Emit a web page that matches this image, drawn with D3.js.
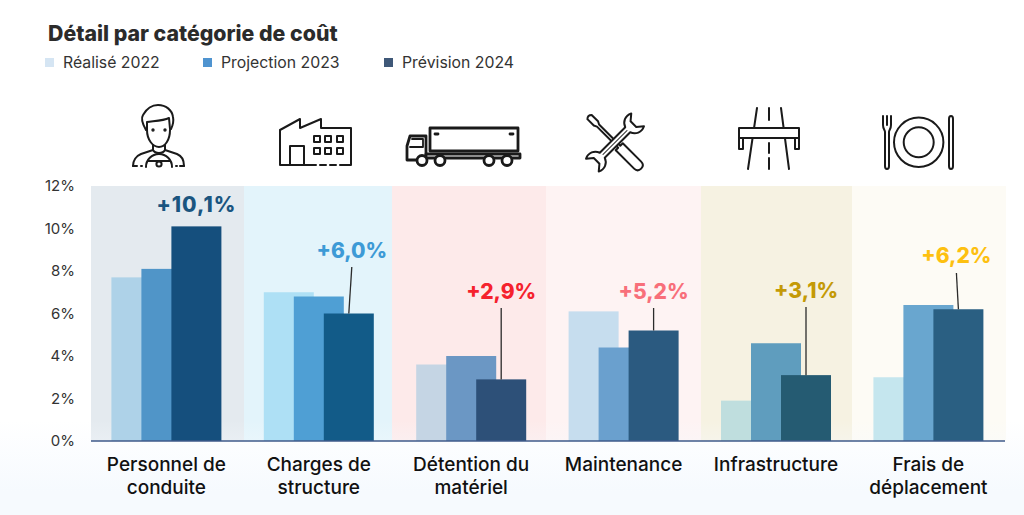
<!DOCTYPE html>
<html>
<head>
<meta charset="utf-8">
<script src="https://cdn.jsdelivr.net/npm/d3@7"></script>
<style>
  html, body { margin: 0; padding: 0; background: #fff; }
  svg { display: block; }
  text { font-family: Inter, Lato, sans-serif; }
</style>
</head>
<body>
<script>
  // Data
  var categories = ['Personnel de conduite', 'Charges de structure', 'Détention du matériel',
    'Maintenance', 'Infrastructure', 'Frais de déplacement'];
  var categoryLines = [['Personnel de', 'conduite'], ['Charges de', 'structure'], ['Détention du', 'matériel'],
    ['Maintenance'], ['Infrastructure'], ['Frais de', 'déplacement']];
  var seriesNames = ['Réalisé 2022', 'Projection 2023', 'Prévision 2024'];
  var realise2022 = [7.7, 7.0, 3.6, 6.1, 1.9, 3.0];
  var projection2023 = [8.1, 6.8, 4.0, 4.4, 4.6, 6.4];
  var prevision2024 = [10.1, 6.0, 2.9, 5.2, 3.1, 6.2];
  var deltaLabels = ['+10,1%', '+6,0%', '+2,9%', '+5,2%', '+3,1%', '+6,2%'];
  var yTicks = [0, 2, 4, 6, 8, 10, 12];

  // Colours: one row per category, one column per series
  var barColors = [
    ['#aed2e8', '#5095c8', '#154f7d'],
    ['#aee0f5', '#4f9fd4', '#125b88'],
    ['#c5d5e4', '#6b97c4', '#2d5078'],
    ['#c6ddee', '#6aa0ce', '#2b5a80'],
    ['#bfdede', '#5f9dbe', '#255b72'],
    ['#c5e6ee', '#69a6cf', '#2a5f82']
  ];
  var panelColors = ['#e4eaef', '#e3f4fb', '#fdeaea', '#fef3f3', '#f6f2e2', '#fdfbf5'];
  var deltaColors = ['#1a5580', '#3d9ad6', '#f5222d', '#f86f7a', '#c49a06', '#fdc010'];
  var legendColors = ['#d5e5f3', '#4f94d0', '#3f5878'];

  // Layout
  var w = 1024, h = 515;
  var panelEdges = [91, 244, 392, 546, 701, 852, 1006];
  var deltaBaseline = [212, 258, 299, 299, 298, 263];
  var deltaShift = [0, 3, 0, 0, 0, -2];
  var deltaSpacing = [1, 0, 0, 0, 0, 0];
  var leaderTop = [null, 267, 308, 308, 307, 273];
  var legendX = [45, 203, 384];
  var barWidth = 50;

  var data = [realise2022, projection2023, prevision2024];

  var svg = d3.select('body').append('svg').attr('width', w).attr('height', h);

  var x = d3.scaleBand().domain(categories).range([90.2, 1004.6]);
  var offset = d3.scalePoint().domain(seriesNames).range([-30, 30]);
  var y = d3.scaleLinear().domain([0, 12]).range([441, 186]);

  var defs = svg.append('defs');
  var fade = defs.append('linearGradient').attr('id', 'fade').attr('x1', 0).attr('x2', 0).attr('y1', 0).attr('y2', 1);
  fade.append('stop').attr('offset', 0).attr('stop-color', '#f6fafe').attr('stop-opacity', 0);
  fade.append('stop').attr('offset', 0.75).attr('stop-color', '#f6fafe').attr('stop-opacity', 1);
  fade.append('stop').attr('offset', 1).attr('stop-color', '#f6fafe').attr('stop-opacity', 1);

  // Panels behind each category
  svg.selectAll('rect.panel')
    .data(categories)
    .enter()
    .append('rect')
    .attr('class', 'panel')
    .attr('x', function(d, i) { return panelEdges[i]; })
    .attr('y', y(12))
    .attr('width', function(d, i) { return panelEdges[i + 1] - panelEdges[i]; })
    .attr('height', y(0) - y(12))
    .attr('fill', function(d, i) { return panelColors[i]; });

  svg.append('rect')
    .attr('x', 0).attr('y', 420).attr('width', w).attr('height', 95)
    .attr('fill', 'url(#fade)');

  // Bars, series by series so the later year sits on top
  seriesNames.forEach(function(name, s) {
    svg.selectAll('rect.s' + s)
      .data(data[s])
      .enter()
      .append('rect')
      .attr('class', 's' + s)
      .attr('x', function(d, i) { return x(categories[i]) + x.bandwidth() / 2 + offset(name) - barWidth / 2; })
      .attr('y', function(d) { return y(d); })
      .attr('width', barWidth)
      .attr('height', function(d) { return y(0) - y(d); })
      .attr('fill', function(d, i) { return barColors[i][s]; });
  });

  // Leader lines
  svg.selectAll('line.leader')
    .data(categories.filter(function(d, i) { return leaderTop[i] !== null; }))
    .enter()
    .append('line')
    .attr('class', 'leader')
    .attr('x1', function(d) {
      var i = categories.indexOf(d);
      return x(d) + x.bandwidth() / 2 + offset(seriesNames[2]) + deltaShift[i];
    })
    .attr('y1', function(d) { return leaderTop[categories.indexOf(d)]; })
    .attr('x2', function(d) { return x(d) + x.bandwidth() / 2 + offset(seriesNames[2]); })
    .attr('y2', function(d) { return y(prevision2024[categories.indexOf(d)]); })
    .attr('stroke', '#2b2b2b')
    .attr('stroke-width', 1.3);

  // Delta labels
  svg.selectAll('text.delta')
    .data(deltaLabels)
    .enter()
    .append('text')
    .attr('class', 'delta')
    .attr('x', function(d, i) { return x(categories[i]) + x.bandwidth() / 2 + offset(seriesNames[2]) + deltaShift[i]; })
    .attr('y', function(d, i) { return deltaBaseline[i]; })
    .attr('text-anchor', 'middle')
    .style('font-size', '21px')
    .style('font-weight', 800)
    .style('letter-spacing', function(d, i) { return deltaSpacing[i] + 'px'; })
    .attr('fill', function(d, i) { return deltaColors[i]; })
    .text(function(d) { return d; });

  // Axis
  var yAxis = d3.axisLeft(y).tickValues(yTicks).tickSize(0).tickPadding(0)
    .tickFormat(function(d) { return d + '%'; });
  var yG = svg.append('g').attr('transform', 'translate(75,0)').call(yAxis);
  yG.select('.domain').remove();
  yG.selectAll('text').style('font-family', 'Inter, Lato, sans-serif').style('font-size', '15px').style('fill', '#333');

  svg.append('line')
    .attr('x1', 91).attr('x2', 1005).attr('y1', y(0)).attr('y2', y(0))
    .attr('stroke', '#3f5a8a').attr('stroke-width', 1.5);

  // Category labels
  var catLabels = svg.selectAll('text.cat')
    .data(categories)
    .enter()
    .append('text')
    .attr('class', 'cat')
    .attr('text-anchor', 'middle')
    .style('font-size', '19px')
    .style('font-weight', 500)
    .attr('fill', '#111');
  catLabels.each(function(d, i) {
    var t = d3.select(this);
    categoryLines[i].forEach(function(line, j) {
      t.append('tspan')
        .attr('x', x(d) + x.bandwidth() / 2)
        .attr('y', 471 + j * 23)
        .text(line);
    });
  });

  // Title and legend
  svg.append('text')
    .attr('x', 48).attr('y', 41)
    .style('font-size', '21.3px').style('font-weight', 800)
    .attr('fill', '#2b2b2b')
    .text('Détail par catégorie de coût');

  svg.selectAll('rect.legend')
    .data(seriesNames)
    .enter()
    .append('rect')
    .attr('class', 'legend')
    .attr('x', function(d, i) { return legendX[i]; })
    .attr('y', 58).attr('width', 9).attr('height', 9)
    .attr('fill', function(d, i) { return legendColors[i]; });

  svg.selectAll('text.legend')
    .data(seriesNames)
    .enter()
    .append('text')
    .attr('class', 'legend')
    .attr('x', function(d, i) { return legendX[i] + 18; })
    .attr('y', 68)
    .style('font-size', '15.8px')
    .attr('fill', '#333')
    .text(function(d) { return d; });

  // Icons
  function icon(tx, ty) {
    return svg.append('g')
      .attr('transform', 'translate(' + tx + ',' + ty + ')')
      .attr('fill', 'none')
      .attr('stroke', '#1a1a1a')
      .attr('stroke-width', 2)
      .attr('stroke-linecap', 'round')
      .attr('stroke-linejoin', 'round');
  }

  var driver = icon(133, 105);
  driver.append('path').attr('d', 'M13 25C9 18 8 13 10 10C14 3 19 0 25 0C33 0 39 5 40 12C41 17 40 20 38 24');
  driver.append('path').attr('d', 'M14 25V17C20 16 30 16 36 13L37 24');
  driver.append('path').attr('d', 'M14 25C14 35 20 42 26 42C32 42 37 35 37 25');
  driver.append('path').attr('d', 'M20 40V45L8 49C3 51 0 56 0 61M32 40V45L44 49C49 51 51 56 51 61');
  driver.append('path').attr('d', 'M20 45C22 49 30 49 32 45');
  driver.append('path').attr('d', 'M13 62A13 13 0 0 1 39 62M15 56H37M0 61H4M8 61H9M43 61H44M47 61H51');
  driver.append('circle').attr('cx', 26).attr('cy', 59).attr('r', 2.6).attr('fill', '#fff');
  driver.append('circle').attr('cx', 20).attr('cy', 25).attr('r', 0.7).attr('fill', '#111');
  driver.append('circle').attr('cx', 32).attr('cy', 25).attr('r', 0.7).attr('fill', '#111');

  var factory = icon(280, 117);
  factory.append('path').attr('d', 'M36 48H0V13L20 2V11L41 2V11H71V48H60M56 48H50M46 48H40');
  factory.append('path').attr('d', 'M10 48V29H24V48');
  [37, 48, 60].forEach(function(wx) {
    [22, 34].forEach(function(wy) {
      factory.append('rect').attr('x', wx - 3).attr('y', wy - 3).attr('width', 6).attr('height', 6);
    });
  });

  var truck = icon(407, 127).attr('stroke-width', 2.8);
  truck.append('rect').attr('x', 23).attr('y', 1).attr('width', 88).attr('height', 23);
  truck.append('path').attr('d', 'M3 9H19V33H0V19Z');
  truck.append('path').attr('d', 'M5 12H16V20H3').attr('stroke-width', 1.8);
  truck.append('path').attr('d', 'M19 27H113V31H19Z').attr('fill', '#fff');
  truck.append('path').attr('d', 'M28 7H31M103 7H106');
  [15, 33, 82, 100].forEach(function(cx) {
    truck.append('circle').attr('cx', cx).attr('cy', 33.5).attr('r', 5).attr('fill', '#fff');
  });

  var tools = icon(615, 142.5);
  var driverTool = tools.append('g').attr('transform', 'rotate(45)');
  driverTool.append('path').attr('d', 'M-36 -3H-27L-24 -1.5H6V-5H32Q37 -5 37 0Q37 5 32 5H6V1.5H-24L-27 3H-36Q-39 0 -36 -3Z');
  var wrench = tools.append('g').attr('transform', 'rotate(-45)');
  wrench.append('path').attr('fill', '#fff')
    .attr('d', 'M-18 -3.5H18C20 -9 26 -12 32 -9L26 -4V4L32 9C26 12 20 9 18 3.5H-18C-20 9 -26 12 -32 9L-26 4V-4L-32 -9C-26 -12 -20 -9 -18 -3.5Z');
  wrench.append('path').attr('d', 'M-17 0H17').attr('stroke-width', 1);

  var highway = icon(738, 108);
  highway.append('path').attr('d', 'M19 0L10 61M43 0L51 61');
  highway.append('path').attr('d', 'M31 0V12M31 35V45M31 50V61');
  highway.append('rect').attr('x', 1).attr('y', 20).attr('width', 60).attr('height', 10).attr('fill', '#fff');
  highway.append('path').attr('d', 'M1 30V41H5V30M57 30V41H61V30');

  var cutlery = icon(882, 116);
  cutlery.append('circle').attr('cx', 36.7).attr('cy', 26.3).attr('r', 24.7);
  cutlery.append('circle').attr('cx', 36.7).attr('cy', 26.3).attr('r', 15);
  cutlery.append('path').attr('d', 'M1 0V9C1 13 3 14 3 16V50C3 54 7 54 7 50V16C7 14 9 13 9 9V0M5 0V9');
  cutlery.append('path').attr('d', 'M67 3C67 -1 71 -1 71 3V50C71 54 67 54 67 50Z');
</script>
</body>
</html>
